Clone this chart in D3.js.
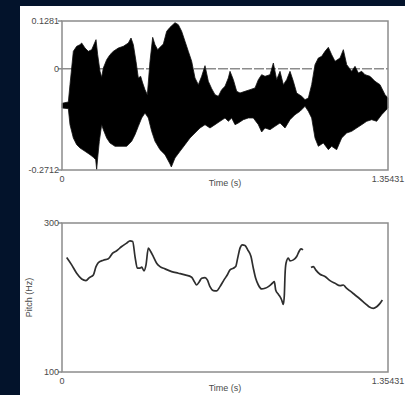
<!DOCTYPE html>
<html>
<head>
<meta charset="utf-8">
<script src="https://cdn.jsdelivr.net/npm/d3@7"></script>
<style>
    html, body { margin: 0; padding: 0; background: #03132b; }
    svg { display: block; }
</style>
</head>
<body>
<div id="chart"></div>
<script>
// axis limits, as printed on the chart
const timeMax = 1.35431;
const ampTicks = [0.1281, 0, -0.2712];
const ampLabels = ["0.1281", "0", "-0.2712"];
const pitchTicks = [300, 100];
const timeLabels = ["0", "1.35431"];

// waveform envelope [time (s), amplitude]
const upperEnv = [
    [0, -0.0925], [0.0263, -0.0889], [0.0332, -0.0425], [0.0471, 0.0468], [0.0609, 0.0602],
    [0.0748, 0.0647], [0.0817, 0.0691], [0.0956, 0.0557], [0.1094, 0.0468], [0.1233, 0.0513],
    [0.1371, 0.0718], [0.1413, 0.0781], [0.1482, 0.0379], [0.1579, -0.0068], [0.1648, -0.0229],
    [0.1717, 0.0022], [0.1856, 0.0245], [0.1994, 0.0379], [0.2133, 0.0468], [0.2340, 0.0557],
    [0.2548, 0.0602], [0.2756, 0.0691], [0.2867, 0.0825], [0.2964, 0.0647], [0.3074, 0.0200],
    [0.3171, -0.0246], [0.3268, -0.0202], [0.3351, -0.0380], [0.3448, -0.0559], [0.3546, -0.0693],
    [0.3656, 0.0200], [0.3767, 0.0843], [0.3864, 0.0647], [0.3974, 0.0513], [0.4071, 0.0575],
    [0.4210, 0.0664], [0.4348, 0.1004], [0.4487, 0.1111], [0.4694, 0.1236], [0.4833, 0.1182],
    [0.4971, 0.1004], [0.5110, 0.0736], [0.5248, 0.0468], [0.5387, 0.0200], [0.5525, -0.0246],
    [0.5664, -0.0425], [0.5802, -0.0202], [0.5941, 0.0084], [0.6079, -0.0336], [0.6218, -0.0532],
    [0.6356, -0.0693], [0.6495, -0.0738], [0.6633, -0.0559], [0.6772, -0.0470], [0.6910, -0.0246],
    [0.6980, -0.0068], [0.7118, -0.0291], [0.7257, -0.0604], [0.7395, -0.0648], [0.7603, -0.0604],
    [0.7811, -0.0559], [0.8018, -0.0514], [0.8157, -0.0291], [0.8295, -0.0157], [0.8434, -0.0202],
    [0.8641, -0.0157], [0.8780, 0.0155], [0.8918, -0.0291], [0.9057, -0.0068], [0.9195, -0.0425],
    [0.9334, -0.0291], [0.9472, -0.0068], [0.9611, -0.0336], [0.9749, -0.0648], [0.9957, -0.0738],
    [1.0096, -0.0827], [1.0234, -0.0782], [1.0372, -0.0425], [1.0511, 0.0111], [1.0649, 0.0289],
    [1.0788, 0.0334], [1.0926, 0.0468], [1.1065, 0.0575], [1.1203, 0.0379], [1.1342, 0.0200],
    [1.1550, 0.0289], [1.1688, 0.0513], [1.1827, 0.0111], [1.2034, -0.0068], [1.2173, 0.0066],
    [1.2311, -0.0112], [1.2450, -0.0068], [1.2588, -0.0157], [1.2796, -0.0202], [1.3004, -0.0336],
    [1.3211, -0.0425], [1.3419, -0.0693], [1.35431, -0.0782]
];
const lowerEnv = [
    [0, -0.1050], [0.0263, -0.1068], [0.0332, -0.1497], [0.0471, -0.1854], [0.0609, -0.2032],
    [0.0748, -0.2122], [0.0956, -0.2211], [0.1163, -0.2300], [0.1302, -0.2372], [0.1399, -0.2434],
    [0.1440, -0.2702], [0.1482, -0.2390], [0.1551, -0.1943], [0.1648, -0.1497], [0.1717, -0.1631],
    [0.1856, -0.1854], [0.1994, -0.1988], [0.2202, -0.2077], [0.2410, -0.2077], [0.2687, -0.2077],
    [0.2894, -0.1943], [0.3033, -0.1765], [0.3171, -0.1541], [0.3310, -0.1318], [0.3448, -0.1184],
    [0.3587, -0.1318], [0.3725, -0.1675], [0.3864, -0.1943], [0.4071, -0.2166], [0.4279, -0.2300],
    [0.4487, -0.2550], [0.4542, -0.2631], [0.4694, -0.2390], [0.4902, -0.2211], [0.5110, -0.2032],
    [0.5318, -0.1854], [0.5525, -0.1720], [0.5733, -0.1586], [0.5941, -0.1497], [0.6148, -0.1586],
    [0.6356, -0.1497], [0.6564, -0.1407], [0.6772, -0.1318], [0.6910, -0.1407], [0.7049, -0.1318],
    [0.7188, -0.1497], [0.7326, -0.1452], [0.7534, -0.1363], [0.7741, -0.1318], [0.7949, -0.1318],
    [0.8157, -0.1497], [0.8295, -0.1693], [0.8434, -0.1586], [0.8641, -0.1631], [0.8849, -0.1541],
    [0.9057, -0.1452], [0.9265, -0.1586], [0.9472, -0.1363], [0.9680, -0.1229], [0.9888, -0.1139],
    [1.0096, -0.1005], [1.0234, -0.1139], [1.0372, -0.1318], [1.0511, -0.1854], [1.0649, -0.2077],
    [1.0857, -0.1988], [1.1065, -0.2166], [1.1203, -0.2077], [1.1411, -0.2166], [1.1619, -0.1854],
    [1.1827, -0.1720], [1.2034, -0.1675], [1.2242, -0.1586], [1.2450, -0.1497], [1.2658, -0.1407],
    [1.2865, -0.1363], [1.3073, -0.1407], [1.3281, -0.1229], [1.35431, -0.1050]
];

// pitch contour [time (s), Hz]; null marks the unvoiced gap
const pitchTrack = [
    [0.0194, 253.7], [0.0402, 243.8], [0.0609, 232.6], [0.0817, 224.9], [0.0997, 222.7],
    [0.1136, 226.7], [0.1302, 230.3], [0.1413, 241.5], [0.1510, 246.9], [0.1717, 250.1],
    [0.1925, 251.9], [0.2105, 259.5], [0.2271, 262.7], [0.2479, 268.5], [0.2687, 273.0],
    [0.2825, 276.1], [0.2936, 275.2], [0.3033, 255.0], [0.3130, 239.3], [0.3240, 239.3],
    [0.3310, 240.7], [0.3407, 235.7], [0.3490, 243.8], [0.3587, 266.3], [0.3684, 261.8],
    [0.3794, 255.0], [0.3933, 246.0], [0.4071, 241.5], [0.4279, 238.4], [0.4556, 234.8],
    [0.4833, 232.6], [0.5110, 230.3], [0.5387, 227.2], [0.5498, 221.3], [0.5595, 216.8],
    [0.5705, 221.3], [0.5802, 225.8], [0.5941, 226.7], [0.6038, 223.6], [0.6148, 214.6],
    [0.6287, 209.2], [0.6426, 208.8], [0.6564, 214.6], [0.6730, 223.6], [0.6883, 231.2],
    [0.6980, 237.1], [0.7118, 239.3], [0.7215, 241.5], [0.7298, 252.8], [0.7395, 266.3],
    [0.7492, 270.7], [0.7603, 269.8], [0.7714, 264.0], [0.7852, 255.0], [0.7949, 239.3],
    [0.8046, 225.8], [0.8157, 216.8], [0.8295, 211.5], [0.8434, 212.4], [0.8572, 214.6],
    [0.8738, 219.1], [0.8821, 221.3], [0.8877, 210.1], [0.8988, 204.3], [0.9057, 201.1],
    [0.9126, 196.6], [0.9195, 190.8], [0.9237, 203.4], [0.9265, 230.3], [0.9306, 246.0],
    [0.9403, 252.8], [0.9472, 249.2], [0.9611, 250.5], [0.9749, 255.0], [0.9846, 261.8],
    [0.9929, 265.4], [1.0012, 264.0],
    null,
    [1.0345, 240.2], [1.0442, 241.5], [1.0539, 237.1], [1.0719, 231.2], [1.0926, 228.1],
    [1.1134, 222.7], [1.1342, 219.1], [1.1550, 215.9], [1.1688, 216.8], [1.1785, 213.7],
    [1.1965, 208.8], [1.2173, 203.4], [1.2380, 198.0], [1.2588, 192.1], [1.2754, 187.6],
    [1.2934, 185.4], [1.3073, 187.6], [1.3211, 192.1], [1.3308, 196.6]
];

const width = 405;
const height = 395;
const frame = { left: 62, right: 388 };
const top1 = { top: 21, bottom: 170 };
const top2 = { top: 223, bottom: 372 };
const grey = "#8c8c8c";
const labelColor = "#4a4a4a";
const font = "'Liberation Sans', Arial, sans-serif";

const svg = d3.select("#chart")
    .append("svg")
    .attr("width", width)
    .attr("height", height);

// white panel on the navy background
svg.append("rect")
    .attr("x", 20)
    .attr("y", 6)
    .attr("width", width - 20)
    .attr("height", height - 6)
    .attr("fill", "#ffffff");

const x = d3.scaleLinear()
    .domain([0, timeMax])
    .range([frame.left, frame.right]);

const yAmp = d3.scaleLinear()
    .domain([ampTicks[2], ampTicks[0]])
    .range([top1.bottom, top1.top]);

const yPitch = d3.scaleLinear()
    .domain([pitchTicks[1], pitchTicks[0]])
    .range([top2.bottom, top2.top]);

function addLabel(g, px, py, text, anchor) {
    g.append("text")
        .attr("x", px)
        .attr("y", py)
        .attr("dy", "0.35em")
        .attr("text-anchor", anchor)
        .attr("fill", labelColor)
        .style("font-family", font)
        .style("font-size", "9px")
        .text(text);
}

// ---- waveform panel ----
const wave = svg.append("g");

// zero line, dashed, underneath the signal
wave.append("line")
    .attr("x1", x(0))
    .attr("x2", x(timeMax))
    .attr("y1", yAmp(0))
    .attr("y2", yAmp(0))
    .attr("stroke", grey)
    .attr("stroke-width", 1.5)
    .style("stroke-dasharray", "10, 2");

const envLine = d3.line()
    .x(d => x(d[0]))
    .y(d => yAmp(d[1]));

wave.append("path")
    .attr("d", envLine(upperEnv.concat(lowerEnv.slice().reverse())) + "Z")
    .attr("fill", "#000000")
    .attr("stroke", "#111111")
    .attr("stroke-width", 0.8)
    .attr("stroke-linejoin", "miter");

ampTicks.forEach((t, i) => {
    wave.append("line")
        .attr("x1", frame.left - 4)
        .attr("x2", frame.left)
        .attr("y1", yAmp(t))
        .attr("y2", yAmp(t))
        .attr("stroke", grey)
        .attr("stroke-width", 1.5);
    addLabel(wave, frame.left - 3, yAmp(t), ampLabels[i], "end");
});

wave.append("rect")
    .attr("x", frame.left)
    .attr("y", top1.top)
    .attr("width", frame.right - frame.left)
    .attr("height", top1.bottom - top1.top)
    .attr("fill", "none")
    .attr("stroke", grey)
    .attr("stroke-width", 1.5);

addLabel(wave, x(0), top1.bottom + 9, timeLabels[0], "middle");
addLabel(wave, x(timeMax), top1.bottom + 9, timeLabels[1], "middle");
addLabel(wave, (frame.left + frame.right) / 2, top1.bottom + 13, "Time (s)", "middle");

// ---- pitch panel ----
const pitch = svg.append("g");

const pitchLine = d3.line()
    .defined(d => d !== null)
    .x(d => x(d[0]))
    .y(d => yPitch(d[1]))
    .curve(d3.curveMonotoneX);

pitch.append("path")
    .attr("d", pitchLine(pitchTrack))
    .attr("fill", "none")
    .attr("stroke", "#2e2e2e")
    .attr("stroke-width", 1.7)
    .attr("stroke-linejoin", "round");

pitchTicks.forEach(t => {
    pitch.append("line")
        .attr("x1", frame.left - 4)
        .attr("x2", frame.left)
        .attr("y1", yPitch(t))
        .attr("y2", yPitch(t))
        .attr("stroke", grey)
        .attr("stroke-width", 1.5);
    addLabel(pitch, frame.left - 3, yPitch(t), String(t), "end");
});

pitch.append("rect")
    .attr("x", frame.left)
    .attr("y", top2.top)
    .attr("width", frame.right - frame.left)
    .attr("height", top2.bottom - top2.top)
    .attr("fill", "none")
    .attr("stroke", grey)
    .attr("stroke-width", 1.5);

addLabel(pitch, x(0), top2.bottom + 9, timeLabels[0], "middle");
addLabel(pitch, x(timeMax), top2.bottom + 9, timeLabels[1], "middle");
addLabel(pitch, (frame.left + frame.right) / 2, top2.bottom + 16, "Time (s)", "middle");

pitch.append("text")
    .attr("transform", `translate(29, ${(top2.top + top2.bottom) / 2}) rotate(-90)`)
    .attr("dy", "0.35em")
    .attr("text-anchor", "middle")
    .attr("fill", labelColor)
    .style("font-family", font)
    .style("font-size", "9px")
    .text("Pitch (Hz)");
</script>
</body>
</html>
